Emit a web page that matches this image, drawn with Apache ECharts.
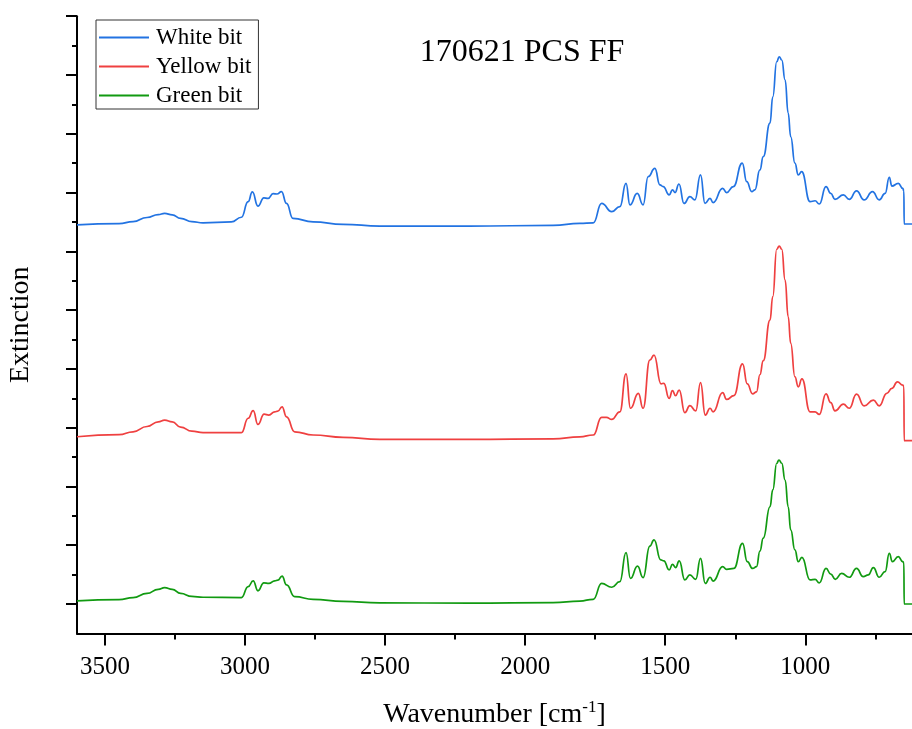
<!DOCTYPE html>
<html>
<head>
<meta charset="utf-8">
<script src="https://cdn.jsdelivr.net/npm/echarts@6/dist/echarts.min.js"></script>
<style>html,body{margin:0;padding:0;background:#fff}#c{width:912px;height:729px}</style>
</head>
<body>
<div id="c"></div>
<script>
const seriesNames = ['White bit', 'Yellow bit', 'Green bit'];
const xMajorTicks = [1000, 1500, 2000, 2500, 3000, 3500];
const xMinorTicks = [750, 1250, 1750, 2250, 2750, 3250];
const yMajorTicks = [0, 2, 4, 6, 8, 10, 12, 14, 16, 18, 20];
const yMinorTicks = [1, 3, 5, 7, 9, 11, 13, 15, 17, 19];

const whiteWn = [3600,3450,3400,3350,3310,3287,3260,3230,3190,3150,3049,3013,2989,2974,2954,2933,2918,2900,2886,2870,2852,2829,2757,2650,2519,2200,1900,1805,1757,1727,1691,1662,1640,1626,1600,1579,1561,1537,1519,1507,1486,1474,1465,1451,1433,1412,1394,1374,1358,1340,1329,1295,1281,1257,1225,1209,1191,1180,1162,1150,1126,1116,1102,1093,1084,1072,1061,1052,1037,1025,1013,983,965,950,926,909,894,864,843,817,790,760,736,715,700,691,668,652,648,647,619];
const whiteVal = [12.90,12.94,13.01,13.15,13.25,13.29,13.24,13.12,13.01,12.97,13.00,13.16,13.69,14.02,13.54,13.82,13.80,13.96,13.95,14.03,13.63,13.12,13.00,12.92,12.86,12.86,12.88,12.95,12.97,13.63,13.35,13.52,14.31,13.58,13.97,13.58,14.54,14.82,14.26,14.20,13.92,14.09,14.00,14.29,13.63,13.86,13.75,14.60,13.63,13.80,13.66,14.14,14.00,14.20,15.00,14.37,14.03,14.09,14.77,15.22,16.36,17.26,18.45,18.62,18.51,17.83,16.70,15.90,15.00,14.60,14.71,13.69,13.72,13.61,14.20,13.97,13.77,13.92,13.77,14.06,13.75,14.03,13.75,13.97,14.52,14.22,14.31,14.14,14.05,12.93,12.93];

const yellowWn = [3600,3450,3400,3350,3310,3287,3260,3230,3190,3150,3013,2989,2971,2954,2932,2915,2894,2883,2868,2852,2823,2757,2650,2519,2200,1900,1805,1757,1727,1710,1691,1662,1640,1624,1596,1579,1555,1540,1515,1505,1486,1474,1463,1450,1430,1412,1391,1374,1357,1340,1329,1295,1281,1255,1224,1207,1188,1174,1162,1150,1126,1116,1102,1093,1084,1072,1061,1052,1037,1025,1012,983,965,950,926,909,894,864,843,817,790,757,736,709,691,671,652,648,647,619];
const yellowVal = [5.69,5.76,5.86,6.04,6.20,6.26,6.20,6.02,5.88,5.83,5.83,6.32,6.58,6.11,6.46,6.43,6.54,6.56,6.71,6.37,5.86,5.75,5.67,5.60,5.60,5.62,5.69,5.75,6.35,6.35,6.28,6.54,7.83,6.66,7.17,6.66,8.30,8.47,7.49,7.51,7.00,7.26,7.09,7.28,6.51,6.75,6.57,7.53,6.43,6.66,6.54,7.19,6.96,7.09,8.17,7.49,7.15,7.22,7.80,8.28,9.66,10.46,12.07,12.18,12.07,11.02,9.78,8.87,7.73,7.39,7.66,6.54,6.54,6.45,7.15,6.85,6.57,6.80,6.66,7.14,6.74,6.94,6.74,7.17,7.34,7.56,7.45,7.40,5.56,5.56];

const greenWn = [3600,3450,3400,3350,3310,3287,3260,3230,3190,3150,3013,2989,2971,2954,2933,2915,2894,2883,2868,2852,2823,2757,2650,2519,2200,1900,1805,1757,1727,1691,1662,1640,1624,1599,1579,1555,1540,1516,1505,1486,1474,1463,1450,1430,1412,1391,1374,1357,1340,1329,1295,1281,1255,1224,1207,1188,1174,1162,1150,1126,1116,1102,1094,1084,1072,1061,1052,1037,1025,1012,983,965,950,926,909,893,870,843,817,793,775,757,736,715,700,689,668,652,648,647,619];
const greenVal = [0.11,0.15,0.22,0.36,0.50,0.56,0.50,0.36,0.26,0.23,0.22,0.59,0.79,0.45,0.72,0.70,0.79,0.81,0.95,0.65,0.25,0.16,0.09,0.04,0.03,0.05,0.10,0.16,0.70,0.57,0.76,1.75,0.87,1.29,0.90,1.97,2.18,1.50,1.47,1.16,1.35,1.24,1.47,0.82,0.99,0.84,1.55,0.70,0.91,0.78,1.27,1.18,1.21,2.06,1.44,1.21,1.27,1.80,2.24,3.31,3.88,4.79,4.90,4.79,4.22,3.31,2.52,1.84,1.44,1.59,0.82,0.84,0.72,1.21,1.02,0.84,1.04,0.91,1.21,0.93,0.99,1.24,0.91,1.10,1.72,1.44,1.61,1.44,1.40,0.00,0.00];

const colors = ['#2273e2', '#ef4040', '#119a11'];
const FONT = "'Liberation Serif', 'Times New Roman', serif";

function pairs(wn, val) { return wn.map((w, i) => [w, val[i]]); }
const seriesData = [pairs(whiteWn, whiteVal), pairs(yellowWn, yellowVal), pairs(greenWn, greenVal)];

const chart = echarts.init(document.getElementById('c'), null, {renderer: 'canvas'});
const xBase = {type: 'value', inverse: true, min: 619, max: 3600, gridIndex: 0, position: 'bottom', splitLine: {show: false}};
const yBase = {type: 'value', min: -1, max: 20, gridIndex: 0, position: 'left', splitLine: {show: false}};
chart.setOption({
  animation: false,
  backgroundColor: '#fff',
  title: {
    text: '170621 PCS FF', left: 517, top: 32, textAlign: 'center',
    textStyle: {fontFamily: FONT, fontSize: 32, fontWeight: 'normal', color: '#000'}
  },
  legend: {
    orient: 'vertical', left: 96, top: 20,
    data: seriesNames,
    icon: 'path://M0 0H100V4H0Z',
    itemWidth: 52, itemHeight: 2, itemGap: 6,
    padding: [6, 7, 2, 3],
    borderColor: '#333', borderWidth: 1, borderRadius: 0,
    textStyle: {fontFamily: FONT, fontSize: 23, color: '#000', padding: [0, 0, 0, 1]}
  },
  grid: {left: 77, right: 0, top: 16.2, bottom: 95.6, outerBoundsMode: 'none', containLabel: false},
  xAxis: [
    Object.assign({}, xBase, {
      name: '{a|Wavenumber [cm}{s|-1}{a|]}',
      nameLocation: 'middle', nameGap: 66,
      nameTextStyle: {rich: {
        a: {fontFamily: FONT, fontSize: 28, color: '#000'},
        s: {fontFamily: FONT, fontSize: 17, color: '#000', padding: [0, 0, 14, 0]}
      }},
      axisLine: {show: true, onZero: false, lineStyle: {color: '#000', width: 2}},
      axisTick: {show: true, length: 12, customValues: xMajorTicks, lineStyle: {color: '#000', width: 2}},
      axisLabel: {show: true, customValues: xMajorTicks, margin: 22, fontFamily: FONT, fontSize: 25, color: '#000',
        formatter: v => String(v)}
    }),
    Object.assign({}, xBase, {
      axisLine: {show: false, onZero: false},
      axisTick: {show: true, length: 6, customValues: xMinorTicks, lineStyle: {color: '#000', width: 2}},
      axisLabel: {show: false}
    })
  ],
  yAxis: [
    Object.assign({}, yBase, {
      name: 'Extinction', nameLocation: 'middle', nameGap: 42, nameRotate: 90,
      nameTextStyle: {fontFamily: FONT, fontSize: 28, color: '#000'},
      axisLine: {show: true, onZero: false, lineStyle: {color: '#000', width: 2}},
      axisTick: {show: true, length: 11, customValues: yMajorTicks, lineStyle: {color: '#000', width: 2}},
      axisLabel: {show: false}
    }),
    Object.assign({}, yBase, {
      axisLine: {show: false, onZero: false},
      axisTick: {show: true, length: 5, customValues: yMinorTicks, lineStyle: {color: '#000', width: 2}},
      axisLabel: {show: false}
    })
  ],
  series: seriesNames.map((name, i) => ({
    name: name, type: 'line', xAxisIndex: 0, yAxisIndex: 0,
    data: seriesData[i], symbol: 'none', showSymbol: false,
    smooth: 0.5, smoothMonotone: 'x',
    lineStyle: {color: colors[i], width: 1.7},
    itemStyle: {color: colors[i]}
  }))
});
</script>
</body>
</html>
